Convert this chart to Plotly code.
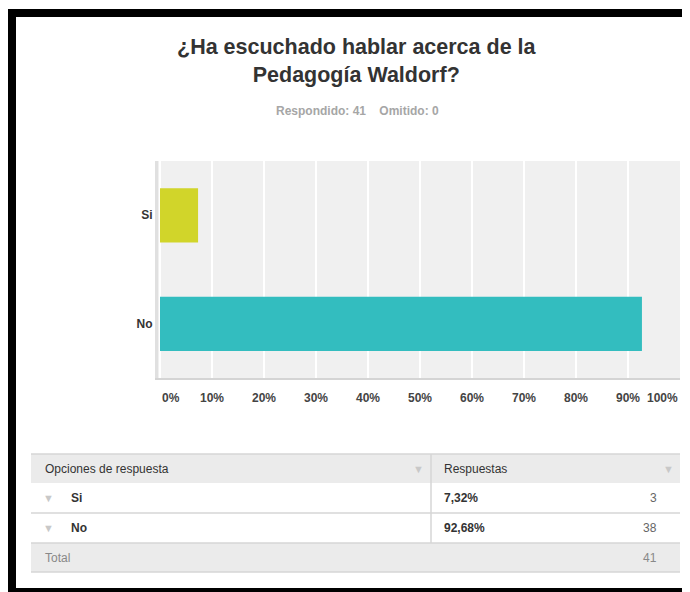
import plotly.graph_objects as go

# ---- data ----
categories = ["Si", "No"]
percents = [7.32, 92.68]
counts = [3, 38]
total = 41
answered = 41
skipped = 0
tick_values = [0, 10, 20, 30, 40, 50, 60, 70, 80, 90, 100]
tick_labels = ["0%", "10%", "20%", "30%", "40%", "50%", "60%", "70%", "80%", "90%", "100%"]
bar_colors = ["#d1d52a", "#33bdbf"]
title_text = "¿Ha escuchado hablar acerca de la<br>Pedagogía Waldorf?"

W, H = 690, 592
OFF = 8  # page body margin
FONT = "Arial, Liberation Sans, sans-serif"


def px(x):
    return (x - OFF) / W


def py(y):
    return 1 - (y - OFF) / H


fig = go.Figure()
fig.add_trace(go.Bar(
    x=percents, y=categories, orientation="h",
    marker=dict(color=bar_colors, line=dict(width=0)),
    hoverinfo="skip",
))

shapes = []
annotations = []

# black frame
for (x0, y0, x1, y1) in [(8, 9, 16, 600), (8, 9, 700, 17), (8, 588, 700, 600)]:
    shapes.append(dict(type="rect", xref="paper", yref="paper",
                       x0=px(x0), x1=px(x1), y0=py(y1), y1=py(y0),
                       fillcolor="#000000", line=dict(width=0), layer="above"))

# title & subtitle
annotations.append(dict(xref="paper", yref="paper", x=px(357), y=py(61.5),
                        text="<b>" + title_text + "</b>", showarrow=False,
                        font=dict(family=FONT, size=21.5, color="#333333"),
                        xanchor="center", yanchor="middle", align="center"))
annotations.append(dict(xref="paper", yref="paper", x=px(357), y=py(111),
                        text="<b>Respondido: %d\u00a0\u00a0\u00a0\u00a0Omitido: %d</b>" % (answered, skipped),
                        showarrow=False, font=dict(family=FONT, size=12, color="#a6a6a6"),
                        xanchor="center", yanchor="middle"))

# x tick labels (edge labels kept inside the plot width)
for i, (v, t) in enumerate(zip(tick_values, tick_labels)):
    anchor = "left" if i == 0 else ("right" if i == len(tick_values) - 1 else "center")
    annotations.append(dict(xref="x", yref="paper", x=v, y=py(398), text="<b>" + t + "</b>",
                            showarrow=False, xanchor=anchor, yanchor="middle",
                            font=dict(family=FONT, size=12, color="#444444")))

# ---- table ----
tx0, tx1, tdiv = 31, 680, 431
rows_y = [454, 483, 513, 543, 572]
shapes.append(dict(type="rect", xref="paper", yref="paper", x0=px(tx0), x1=px(tx1),
                   y0=py(rows_y[1]), y1=py(rows_y[0]), fillcolor="#ebebeb", line=dict(width=0)))
shapes.append(dict(type="rect", xref="paper", yref="paper", x0=px(tx0), x1=px(tx1),
                   y0=py(rows_y[4]), y1=py(rows_y[3]), fillcolor="#ebebeb", line=dict(width=0)))
for yy in [rows_y[0], rows_y[2], rows_y[3], rows_y[4]]:
    shapes.append(dict(type="line", xref="paper", yref="paper", x0=px(tx0), x1=px(tx1),
                       y0=py(yy), y1=py(yy), line=dict(color="#d6d6d6", width=1.5)))
shapes.append(dict(type="line", xref="paper", yref="paper", x0=px(tdiv), x1=px(tdiv),
                   y0=py(rows_y[0]), y1=py(rows_y[3]), line=dict(color="#d6d6d6", width=1.5)))


def cell(x, y, text, anchor="left", color="#333333", size=12, bold=False):
    annotations.append(dict(xref="paper", yref="paper", x=px(x), y=py(y),
                            text=("<b>%s</b>" % text) if bold else text, showarrow=False,
                            xanchor=anchor, yanchor="middle",
                            font=dict(family=FONT, size=size, color=color)))


def mid(i):
    return (rows_y[i] + rows_y[i + 1]) / 2


cell(43, mid(0), "Opciones de respuesta")
cell(418, mid(0), "▼", anchor="center", color="#c8c8c8", size=11)
cell(442, mid(0), "Respuestas")
cell(668, mid(0), "▼", anchor="center", color="#c8c8c8", size=11)
for i, (c, p, n) in enumerate(zip(categories, percents, counts)):
    yy = mid(i + 1)
    cell(48, yy, "▼", anchor="center", color="#c8c8c8", size=11)
    cell(69, yy, c, bold=True)
    cell(442, yy, ("%.2f" % p).replace(".", ",") + "%", bold=True)
    cell(659, yy, str(n), anchor="right", color="#666666")
cell(43, mid(3), "Total", color="#888888")
cell(659, mid(3), str(total), anchor="right", color="#888888")

fig.update_layout(
    width=W, height=H,
    margin=dict(l=0, r=0, t=0, b=0),
    paper_bgcolor="#ffffff",
    plot_bgcolor="#f0f0f0",
    showlegend=False,
    bargap=0.5,
    shapes=shapes,
    annotations=annotations,
    xaxis=dict(domain=[px(158), px(680)], range=[-0.385, 100], tickvals=tick_values,
               showticklabels=False, showgrid=True, gridcolor="#ffffff", gridwidth=2,
               zeroline=False, showline=True, linecolor="#d4d4d4", linewidth=2,
               fixedrange=True),
    yaxis=dict(domain=[py(378), py(161)], autorange="reversed",
               showgrid=False, zeroline=False, showline=True, linecolor="#e0e0e0", linewidth=3,
               ticks="", ticklen=0,
               tickfont=dict(family=FONT, size=12, color="#333333"),
               tickvals=categories, ticktext=["<b>%s</b>" % c for c in categories],
               fixedrange=True),
)

fig.write_html("out.html")
